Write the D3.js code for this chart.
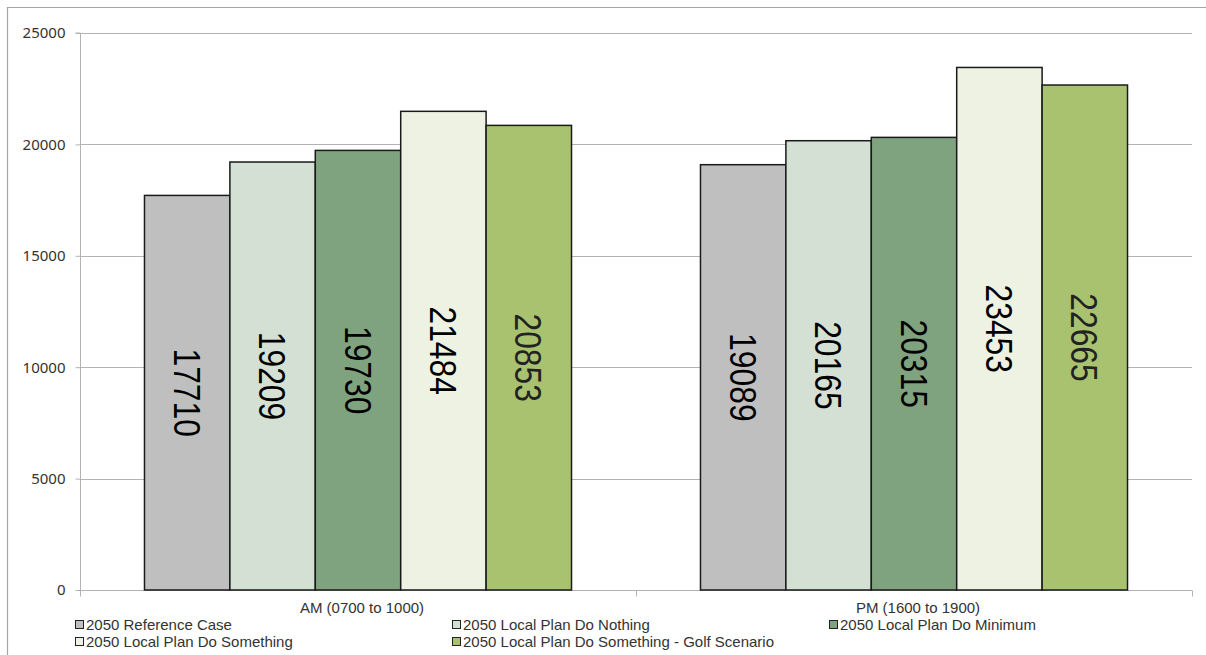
<!DOCTYPE html>
<html>
<head>
<meta charset="utf-8">
<script src="https://cdn.jsdelivr.net/npm/d3@7"></script>
<style>
  html, body { margin: 0; padding: 0; background: #fff; }
  svg { display: block; }
</style>
</head>
<body>
<svg id="chart" width="1206" height="655"></svg>
<script>
const categories = ["AM (0700 to 1000)", "PM (1600 to 1900)"];
const seriesNames = [
  "2050 Reference Case",
  "2050 Local Plan Do Nothing",
  "2050 Local Plan Do Minimum",
  "2050 Local Plan Do Something",
  "2050 Local Plan Do Something - Golf Scenario"
];
const amValues = [17710, 19209, 19730, 21484, 20853];
const pmValues = [19089, 20165, 20315, 23453, 22665];
const seriesColors = ["#BFBFBF", "#D5E0D5", "#7FA37F", "#EEF2E3", "#A9C26F"];
const yTicks = [0, 5000, 10000, 15000, 20000, 25000];

const valuesByCategory = [amValues, pmValues];

const svg = d3.select("#chart");
const W = 1206, H = 655;
const plot = { left: 80, right: 1192, top: 33, bottom: 590 };
const labelFont = "Liberation Sans, Arial, sans-serif";

// outer frame
svg.append("path")
  .attr("d", `M7.5,${H + 5} L7.5,7.5 L${W + 5},7.5`)
  .attr("fill", "none").attr("stroke", "#A6A6A6").attr("stroke-width", 1.2);

const y = d3.scaleLinear().domain([0, 25000]).range([plot.bottom, plot.top]);
const x0 = d3.scaleBand().domain(categories).range([plot.left, plot.right]).padding(0);
const x1 = d3.scaleBand().domain(seriesNames).range([0, x0.bandwidth()])
  .paddingInner(0).paddingOuter(0.755);

// gridlines
svg.append("g").selectAll("line").data(yTicks.filter(d => d > 0)).join("line")
  .attr("x1", plot.left).attr("x2", plot.right)
  .attr("y1", d => Math.round(y(d)) + 0.5).attr("y2", d => Math.round(y(d)) + 0.5)
  .attr("stroke", "#B3B3B3").attr("stroke-width", 1);

// y axis
const yAxis = d3.axisLeft(y).tickValues(yTicks).tickSize(5).tickPadding(10).tickFormat(d3.format("d"));
const gy = svg.append("g").attr("transform", `translate(${plot.left + 0.5},0)`).call(yAxis);
gy.select(".domain").attr("stroke", "#B3B3B3").attr("d", `M-5,${y(25000)}H0V${y(0)}`);
gy.selectAll(".tick line").attr("stroke", "#B3B3B3");
gy.selectAll(".tick text").attr("font-family", "Noto Sans, sans-serif").attr("font-size", 15).attr("fill", "#333");

// x axis
const gx = svg.append("g").attr("transform", `translate(0,${Math.round(plot.bottom) + 0.5})`);
gx.append("line").attr("x1", plot.left).attr("x2", plot.right).attr("y1", 0).attr("y2", 0)
  .attr("stroke", "#B3B3B3");
const bounds = [plot.left].concat(categories.map(c => x0(c) + x0.bandwidth()));
gx.selectAll("line.tk").data(bounds).join("line").attr("class", "tk")
  .attr("x1", d => d + 0.5).attr("x2", d => d + 0.5).attr("y1", 0).attr("y2", 6)
  .attr("stroke", "#B3B3B3");
gx.selectAll("text").data(categories).join("text")
  .attr("x", d => x0(d) + x0.bandwidth() / 2 + 4)
  .attr("y", 17)
  .attr("dy", "0.35em")
  .attr("text-anchor", "middle")
  .attr("font-family", labelFont).attr("font-size", 15).attr("fill", "#333")
  .text(d => d);

// bars
const groups = svg.append("g").selectAll("g").data(categories).join("g")
  .attr("transform", d => `translate(${x0(d)},0)`);

groups.selectAll("rect")
  .data((c, ci) => seriesNames.map((s, si) => ({ s, si, v: valuesByCategory[ci][si] })))
  .join("rect")
  .attr("x", d => x1(d.s))
  .attr("y", d => y(d.v))
  .attr("width", x1.bandwidth())
  .attr("height", d => y(0) - y(d.v))
  .attr("fill", d => seriesColors[d.si])
  .attr("stroke", "#1a1a1a").attr("stroke-width", 1.5);

groups.selectAll("text")
  .data((c, ci) => seriesNames.map((s, si) => ({ s, si, v: valuesByCategory[ci][si] })))
  .join("text")
  .attr("transform", d => `translate(${x1(d.s) + x1.bandwidth() / 2},${(y(d.v) + y(0)) / 2}) rotate(90) scale(0.86,1)`)
  .attr("text-anchor", "middle")
  .attr("dy", "0.36em")
  .attr("font-family", labelFont)
  .attr("font-size", 37)
  .attr("fill", d => d.si === 4 ? "#222" : "#000")
  .text(d => d.v);

// legend
const legCols = [75, 452, 829];
const legRows = [625, 642];
const legend = svg.append("g").selectAll("g").data(seriesNames).join("g")
  .attr("transform", (d, i) => `translate(${legCols[i % 3]},${legRows[Math.floor(i / 3)]})`);
legend.append("rect")
  .attr("x", 0.5).attr("y", -4.5).attr("width", 8).attr("height", 8)
  .attr("fill", (d, i) => seriesColors[i]).attr("stroke", "#222").attr("stroke-width", 1);
legend.append("text")
  .attr("x", 11).attr("y", 0).attr("dy", "0.35em")
  .attr("font-family", labelFont).attr("font-size", 15).attr("fill", "#333")
  .text(d => d);
</script>
</body>
</html>
